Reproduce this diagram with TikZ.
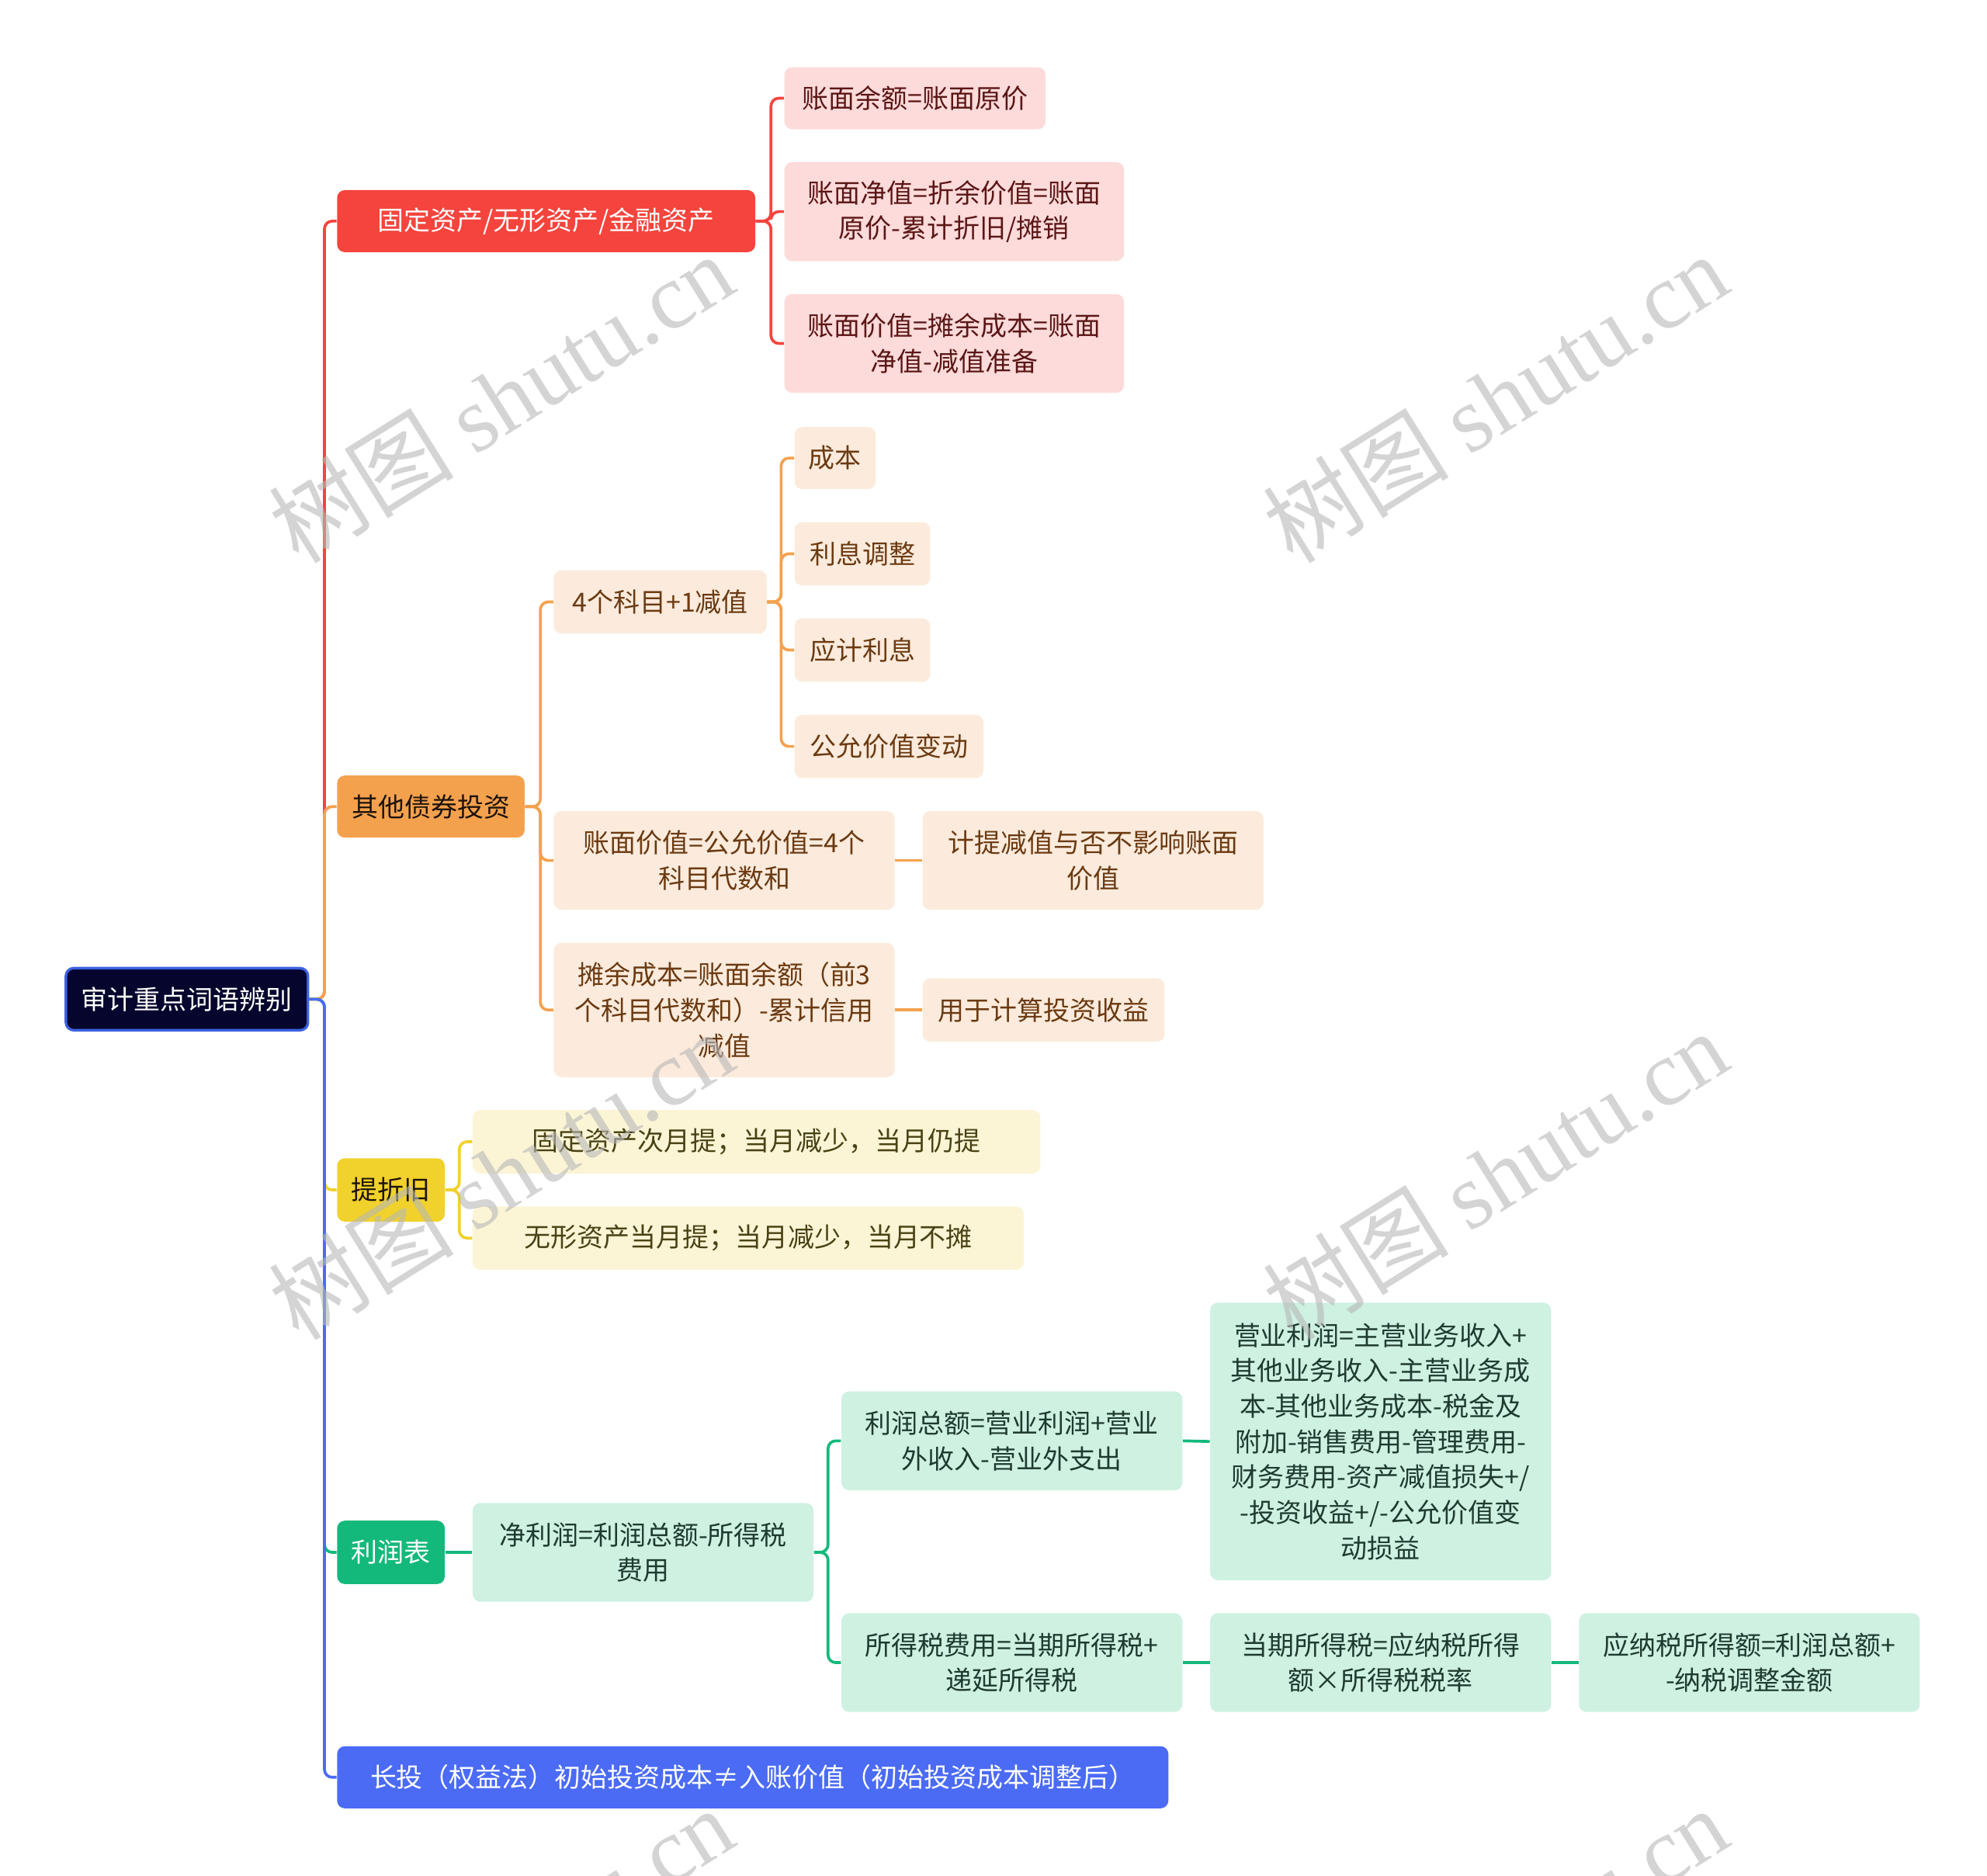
\documentclass[tikz,border=0pt]{standalone}
\usepackage{fontspec}
\setmainfont{Noto Sans CJK SC}
\newfontfamily\wmserif{Liberation Serif}
\usetikzlibrary{backgrounds}
\definecolor{rootfill}{HTML}{05052E}
\definecolor{rootline}{HTML}{3D62E0}
\definecolor{cred}{HTML}{F5443D}
\definecolor{lred}{HTML}{FDDBDA}
\definecolor{tred}{HTML}{5B1616}
\definecolor{corange}{HTML}{F4A14E}
\definecolor{lorange}{HTML}{FCEBDC}
\definecolor{torange}{HTML}{6B3A12}
\definecolor{cyellow}{HTML}{F1D12B}
\definecolor{lyellow}{HTML}{FBF5D6}
\definecolor{tyellow}{HTML}{4A4214}
\definecolor{cgreen}{HTML}{13B97B}
\definecolor{lgreen}{HTML}{CEF1E2}
\definecolor{tgreen}{HTML}{1F3B30}
\definecolor{cblue}{HTML}{4B6BF5}
\begin{document}
\begin{tikzpicture}[x=0.49pt,y=-0.49pt,
  base/.style={rectangle, rounded corners=3pt, inner sep=0pt, align=center,
    font=\fontsize{10.2pt}{13.7pt}\selectfont},
  sz/.style 2 args={minimum width=#1*0.49pt, minimum height=#2*0.49pt},
  rootbox/.style={base, fill=rootfill, draw=rootline, line width=1pt, text=white},
  redmain/.style={base, fill=cred, text=white},
  redsub/.style={base, fill=lred, text=tred},
  orgmain/.style={base, fill=corange, text=black!85!brown},
  orgsub/.style={base, fill=lorange, text=torange},
  yelmain/.style={base, fill=cyellow, text=black!85!brown},
  yelsub/.style={base, fill=lyellow, text=tyellow},
  grnmain/.style={base, fill=cgreen, text=white},
  grnsub/.style={base, fill=lgreen, text=tgreen},
  blumain/.style={base, fill=cblue, text=white},
  conn/.style={line width=1.1pt, rounded corners=3pt},
  wm/.style={text=black!28, text opacity=0.6, rotate=32,
    font=\fontsize{36pt}{38pt}\selectfont}
]
\useasboundingbox (0,0) rectangle (1568,1480);

% root and level 1
\node[rootbox, sz={191}{49}] (root) at (147.5,788.5) {审计重点词语辨别};
\node[redmain, sz={330}{49}] (fa) at (431,174.5) {固定资产/无形资产/金融资产};
\node[orgmain, sz={148}{49}] (qt) at (340,636.5) {其他债券投资};
\node[yelmain, sz={85}{50}] (zj) at (308.5,939) {提折旧};
\node[grnmain, sz={85}{50}] (lr) at (308.5,1225) {利润表};
\node[blumain, sz={656}{49}] (ct) at (594,1402.5) {长投（权益法）初始投资成本≠入账价值（初始投资成本调整后）};

% red children
\node[redsub, sz={206}{49}] (r1) at (722,77.5) {账面余额=账面原价};
\node[redsub, sz={268}{78}] (r2) at (753,167) {账面净值=折余价值=账面\\原价-累计折旧/摊销};
\node[redsub, sz={268}{78}] (r3) at (753,271) {账面价值=摊余成本=账面\\净值-减值准备};

% orange children
\node[orgsub, sz={168}{50}] (o1) at (521,475) {4个科目+1减值};
\node[orgsub, sz={64}{49}] (o11) at (659,361.5) {成本};
\node[orgsub, sz={107}{50}] (o12) at (680.5,437) {利息调整};
\node[orgsub, sz={107}{50}] (o13) at (680.5,513) {应计利息};
\node[orgsub, sz={149}{50}] (o14) at (701.5,589) {公允价值变动};
\node[orgsub, sz={269}{78}] (o2) at (571.5,679) {账面价值=公允价值=4个\\科目代数和};
\node[orgsub, sz={269}{78}] (o21) at (862.5,679) {计提减值与否不影响账面\\价值};
\node[orgsub, sz={269}{106}] (o3) at (571.5,797) {摊余成本=账面余额（前3\\个科目代数和）-累计信用\\减值};
\node[orgsub, sz={191}{50}] (o31) at (823.5,797) {用于计算投资收益};

% yellow children
\node[yelsub, sz={448}{50}] (y1) at (597,901) {固定资产次月提；当月减少，当月仍提};
\node[yelsub, sz={435}{50}] (y2) at (590.5,977) {无形资产当月提；当月减少，当月不摊};

% green children
\node[grnsub, sz={269}{78}] (g1) at (507.5,1225) {净利润=利润总额-所得税\\费用};
\node[grnsub, sz={269}{78}] (g11) at (798.5,1137) {利润总额=营业利润+营业\\外收入-营业外支出};
\node[grnsub, sz={269}{219}] (g111) at (1089.5,1137.5) {营业利润=主营业务收入+\\其他业务收入-主营业务成\\本-其他业务成本-税金及\\附加-销售费用-管理费用-\\财务费用-资产减值损失+/\\-投资收益+/-公允价值变\\动损益};
\node[grnsub, sz={269}{78}] (g12) at (798.5,1312) {所得税费用=当期所得税+\\递延所得税};
\node[grnsub, sz={269}{78}] (g121) at (1089.5,1312) {当期所得税=应纳税所得\\额×所得税税率};
\node[grnsub, sz={269}{78}] (g1211) at (1380.5,1312) {应纳税所得额=利润总额+\\-纳税调整金额};

\begin{scope}[on background layer]
  % root branches
  \draw[conn, cred] (root.east) -- ++(12,0) |- (fa.west);
  \draw[conn, corange] (root.east) -- ++(12,0) |- (qt.west);
  \draw[conn, cyellow] (root.east) -- ++(12,0) |- (zj.west);
  \draw[conn, cgreen] (root.east) -- ++(12,0) |- (lr.west);
  \draw[conn, cblue] (root.east) -- ++(12,0) |- (ct.west);
  % red
  \foreach \c in {r1,r2,r3}
    \draw[conn, cred] (fa.east) -- ++(12,0) |- (\c.west);
  % orange
  \foreach \c in {o1,o2,o3}
    \draw[conn, corange] (qt.east) -- ++(12,0) |- (\c.west);
  \foreach \c in {o11,o12,o13,o14}
    \draw[conn, corange] (o1.east) -- ++(11,0) |- (\c.west);
  \draw[conn, corange] (o2.east) -- (o21.west);
  \draw[conn, corange] (o3.east) -- (o31.west);
  % yellow
  \foreach \c in {y1,y2}
    \draw[conn, cyellow] (zj.east) -- ++(11,0) |- (\c.west);
  % green
  \draw[conn, cgreen] (lr.east) -- (g1.west);
  \foreach \c in {g11,g12}
    \draw[conn, cgreen] (g1.east) -- ++(11,0) |- (\c.west);
  \draw[conn, cgreen] (g11.east) -- (g111.west);
  \draw[conn, cgreen] (g12.east) -- (g121.west);
  \draw[conn, cgreen] (g121.east) -- (g1211.west);
\end{scope}

% watermarks
\begin{scope}
  \clip (0,0) rectangle (1568,1480);
  \foreach \wx/\wy/\wn in {395/314/w1, 1180/314/w2, 395/927/w3, 1180/927/w4, 395/1540/w5, 1180/1540/w6}
    \node[wm] (\wn) at (\wx,\wy) {树图 {\wmserif shutu.cn}};
\end{scope}
\end{tikzpicture}
\end{document}
